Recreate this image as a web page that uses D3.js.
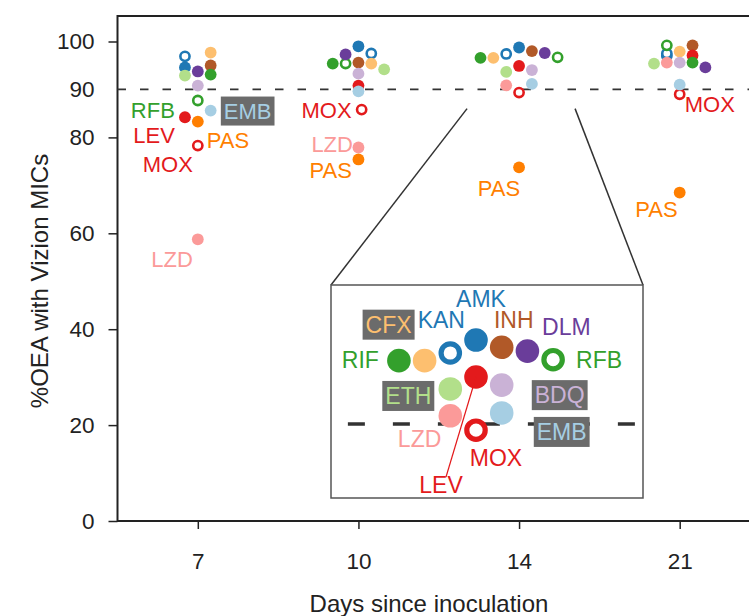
<!DOCTYPE html>
<html>
<head>
<meta charset="utf-8">
<script src="https://cdn.jsdelivr.net/npm/d3@7"></script>
<style>
  body { margin: 0; background: #fff; }
  text { font-family: "Liberation Sans", Arial, Helvetica, sans-serif; }
</style>
</head>
<body>
<div id="chart"></div>
<script>
// days on the x axis
const days = [7, 10, 14, 21];

// drugs, in drawing order
const drugs = ["AMK", "KAN", "RFB", "CFX", "INH", "LEV", "RIF", "ETH", "LZD", "BDQ", "DLM", "MOX", "EMB", "PAS"];

// %OEA per day, same order as drugs
const oeaDay7  = [94.6, 96.9, 87.7, 97.7, 95.0, 84.2, 93.1, 92.9, 58.75, 90.8, 93.75, 78.3, 85.6, 83.3];
const oeaDay10 = [99.0, 97.5, 95.4, 95.4, 95.6, 90.8, 95.4, 94.2, 77.9, 93.3, 97.3, 85.8, 89.6, 75.4];
const oeaDay14 = [98.75, 97.4, 96.7, 96.6, 98.0, 94.9, 96.6, 93.65, 90.85, 94.05, 97.6, 89.35, 91.15, 73.75];
const oeaDay21 = [97.0, 97.5, 99.2, 97.9, 99.2, 97.1, 95.6, 95.4, 95.6, 95.6, 94.6, 89.0, 91.0, 68.5];

// side-by-side slot of each dot (swarm offset, in dot widths)
const slotDay7  = [-1, -1, 0, 1, 1, -1, 1, -1, 0, 0, 0, 0, 1, 0];
const slotDay10 = [0, 1, -1, 1, 0, 0, -2, 2, 0, 0, -1, 0.25, 0, 0];
const slotDay14 = [0, -1, 3, -2, 1, 0, -3, -1, -1, 1, 2, 0, 1, 0];
const slotDay21 = [-1, -1, -1, 0, 1, 1, 1, -2, -1, 0, 2, 0, 0, 0];

const yTicks = [0, 20, 40, 60, 80, 90, 100];
const cutoff = 90;

// styling
const drugColor = {
  AMK: "#1f78b4", KAN: "#1f78b4", RIF: "#33a02c", RFB: "#33a02c",
  CFX: "#fdbf6f", PAS: "#ff7f00", INH: "#b15928", DLM: "#6a3d9a",
  BDQ: "#cab2d6", ETH: "#b2df8a", LZD: "#fb9a99", LEV: "#e31a1c",
  MOX: "#e31a1c", EMB: "#a6cee3"
};
const openDrugs = new Set(["KAN", "RFB", "MOX"]);
const boxedDrugs = new Set(["CFX", "ETH", "BDQ", "EMB"]);

const width = 749, height = 616;
const margin = { top: 16, left: 117.5, bottom: 95, right: -11 };

const svg = d3.select("#chart").append("svg")
  .attr("width", width)
  .attr("height", height);

const x = d3.scalePoint()
  .domain(days)
  .range([margin.left, width - margin.right])
  .padding(0.5);

const y = d3.scaleLinear()
  .domain([0, 100])
  .range([height - margin.bottom, 41.5]);

const dotStep = 12.85;
const dotR = 5.9;

const rows = [];
[oeaDay7, oeaDay10, oeaDay14, oeaDay21].forEach((vals, i) => {
  const slots = [slotDay7, slotDay10, slotDay14, slotDay21][i];
  drugs.forEach((drug, j) => {
    rows.push({ day: days[i], drug: drug, value: vals[j], slot: slots[j], order: j });
  });
});
rows.sort((a, b) => a.order - b.order);

const px = d => x(d.day) + d.slot * dotStep;
const py = d => y(d.value);
const find = (drug, day) => rows.find(r => r.drug === drug && r.day === day);

// axes
const yAxis = svg.append("g")
  .attr("transform", `translate(${margin.left},0)`)
  .call(d3.axisLeft(y).tickValues(yTicks).tickSize(9).tickPadding(14));
yAxis.select(".domain").remove();
yAxis.selectAll(".tick").filter(d => d === cutoff).select("line").remove();

const xAxis = svg.append("g")
  .attr("transform", `translate(0,${y(0)})`)
  .call(d3.axisBottom(x).tickSize(8).tickPadding(24));
xAxis.select(".domain").remove();

svg.selectAll(".tick line").attr("stroke", "#222").attr("stroke-width", 1.5);
svg.selectAll(".tick text").attr("fill", "#222").style("font-size", "22.5px")
  .style("font-family", "'Liberation Sans', Arial, Helvetica, sans-serif");

// frame (open on the right, off the page)
svg.append("path")
  .attr("d", `M${width + 5},${margin.top}H${margin.left}V${y(0)}H${width + 5}`)
  .attr("fill", "none")
  .attr("stroke", "#222")
  .attr("stroke-width", 2);

// axis titles
svg.append("text")
  .attr("x", 429).attr("y", 612)
  .attr("text-anchor", "middle")
  .style("font-size", "24px")
  .attr("fill", "#222")
  .text("Days since inoculation");

svg.append("text")
  .attr("transform", "translate(48,281) rotate(-90)")
  .attr("text-anchor", "middle")
  .style("font-size", "24px")
  .attr("fill", "#222")
  .text("%OEA with Vizion MICs");

// 90% cutoff line
function cutoffLine(g, sw) {
  g.append("line")
    .attr("x1", margin.left).attr("x2", width + 20)
    .attr("y1", y(cutoff)).attr("y2", y(cutoff))
    .attr("stroke", "#333")
    .attr("stroke-width", sw)
    .attr("stroke-dasharray", "8.5,14");
}
cutoffLine(svg, 1.7);

// inset box and zoom lines
const inset = { x: 331, y: 285, w: 312, h: 213, k: 2, day: 14, value: 94, fx: 145, fy: 100.6 };
const toInset = (mx, my) => [
  inset.x + inset.fx + inset.k * (mx - x(inset.day)),
  inset.y + inset.fy + inset.k * (my - y(inset.value))
];

const zoomFrom = [[x(14) - 52, y(86)], [x(14) + 56, y(86)]];
svg.append("line")
  .attr("x1", zoomFrom[0][0]).attr("y1", zoomFrom[0][1])
  .attr("x2", inset.x).attr("y2", inset.y)
  .attr("stroke", "#333").attr("stroke-width", 1.5);
svg.append("line")
  .attr("x1", zoomFrom[1][0]).attr("y1", zoomFrom[1][1])
  .attr("x2", inset.x + inset.w).attr("y2", inset.y)
  .attr("stroke", "#333").attr("stroke-width", 1.5);

svg.append("rect")
  .attr("x", inset.x).attr("y", inset.y)
  .attr("width", inset.w).attr("height", inset.h)
  .attr("fill", "#fff")
  .attr("stroke", "#555")
  .attr("stroke-width", 1.5);

// dots
function drawDots(g, data) {
  g.selectAll("circle")
    .data(data)
    .enter()
    .append("circle")
    .attr("cx", px)
    .attr("cy", py)
    .attr("r", d => openDrugs.has(d.drug) ? dotR - 1.3 : dotR)
    .attr("fill", d => openDrugs.has(d.drug) ? "#fff" : drugColor[d.drug])
    .attr("stroke", d => openDrugs.has(d.drug) ? drugColor[d.drug] : "none")
    .attr("stroke-width", 2.6);
}
drawDots(svg.append("g"), rows);

// labels
function addLabel(g, text, lx, ly, anchor, size, drug) {
  const t = g.append("text")
    .attr("x", lx).attr("y", ly)
    .attr("text-anchor", anchor)
    .style("font-size", size + "px")
    .attr("fill", drugColor[drug])
    .text(text);
  if (boxedDrugs.has(drug)) {
    const bb = t.node().getBBox();
    g.insert("rect", () => t.node())
      .attr("x", bb.x - 3).attr("y", bb.y - 2)
      .attr("width", bb.width + 6).attr("height", bb.height + 4)
      .attr("fill", "#6b6b6b");
  }
}

// label offsets from their dot, in pixels
const mainLabels = [
  { drug: "RFB", day: 7, dx: -23, dy: 18, anchor: "end" },
  { drug: "LEV", day: 7, dx: -10, dy: 26, anchor: "end" },
  { drug: "MOX", day: 7, dx: -5, dy: 26.5, anchor: "end" },
  { drug: "EMB", day: 7, dx: 37, dy: 8, anchor: "middle" },
  { drug: "PAS", day: 7, dx: 9, dy: 26, anchor: "start" },
  { drug: "LZD", day: 7, dx: -5, dy: 28, anchor: "end" },
  { drug: "MOX", day: 10, dx: -10, dy: 8, anchor: "end" },
  { drug: "LZD", day: 10, dx: -5.5, dy: 5, anchor: "end" },
  { drug: "PAS", day: 10, dx: -6.5, dy: 19, anchor: "end" },
  { drug: "PAS", day: 14, dx: 1, dy: 29, anchor: "end" },
  { drug: "MOX", day: 21, dx: 5, dy: 18, anchor: "start" },
  { drug: "PAS", day: 21, dx: -2, dy: 24, anchor: "end" }
];
const labelG = svg.append("g");
mainLabels.forEach(l => {
  const d = find(l.drug, l.day);
  addLabel(labelG, l.drug, px(d) + l.dx, py(d) + l.dy, l.anchor, 22, l.drug);
});

// inset: the day-14 cluster, magnified
svg.append("clipPath").attr("id", "insetClip")
  .append("rect")
  .attr("x", inset.x + 1).attr("y", inset.y + 1)
  .attr("width", inset.w - 2).attr("height", inset.h - 2);

const insetOuter = svg.append("g").attr("clip-path", "url(#insetClip)");
const [ox, oy] = toInset(0, 0);
const insetG = insetOuter.append("g")
  .attr("transform", `translate(${ox},${oy}) scale(${inset.k})`);
cutoffLine(insetG, 1.7);
drawDots(insetG, rows.filter(d => d.day === inset.day && d.drug !== "PAS"));

const insetLabels = [
  { drug: "RIF", dx: -20, dy: 7, anchor: "end" },
  { drug: "CFX", dx: -36, dy: -28, anchor: "middle" },
  { drug: "KAN", dx: -9, dy: -25, anchor: "middle" },
  { drug: "AMK", dx: 5, dy: -33, anchor: "middle" },
  { drug: "INH", dx: 12, dy: -19, anchor: "middle" },
  { drug: "DLM", dx: 39, dy: -16, anchor: "middle" },
  { drug: "RFB", dx: 23, dy: 8, anchor: "start" },
  { drug: "ETH", dx: -42, dy: 15, anchor: "middle" },
  { drug: "BDQ", dx: 58, dy: 18, anchor: "middle" },
  { drug: "EMB", dx: 60, dy: 27, anchor: "middle" },
  { drug: "LZD", dx: -9, dy: 31, anchor: "end" },
  { drug: "MOX", dx: 20, dy: 36, anchor: "middle" },
  { drug: "LEV", dx: -35, dy: 116, anchor: "middle" }
];
const insetLabelG = svg.append("g");
insetLabels.forEach(l => {
  const d = find(l.drug, inset.day);
  const [ix, iy] = toInset(px(d), py(d));
  addLabel(insetLabelG, l.drug, ix + l.dx, iy + l.dy, l.anchor, 23, l.drug);
  if (l.drug === "LEV") {
    insetLabelG.append("line")
      .attr("x1", ix).attr("y1", iy)
      .attr("x2", ix - 30).attr("y2", iy + 100)
      .attr("stroke", drugColor.LEV)
      .attr("stroke-width", 1.2);
  }
});
</script>
</body>
</html>
